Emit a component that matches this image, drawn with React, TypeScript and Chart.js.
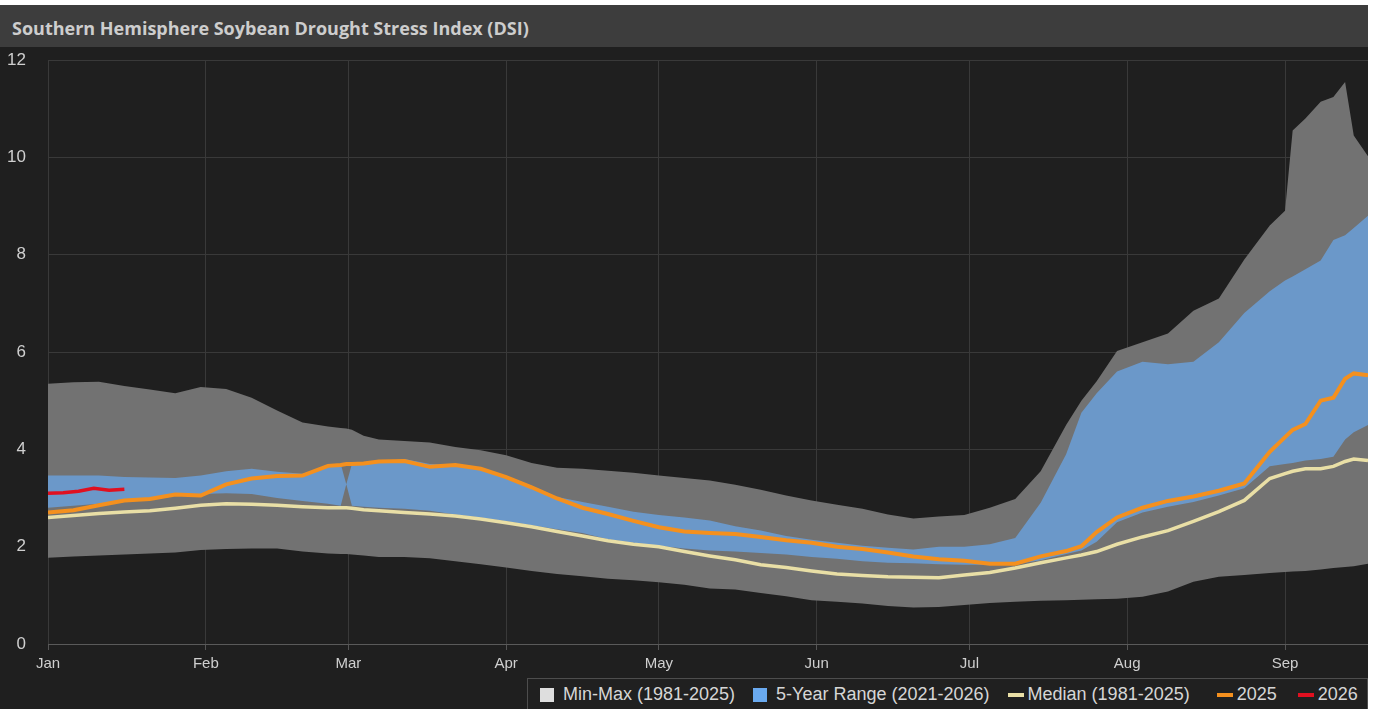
import React, { useEffect, useRef } from 'react';
import { Chart, registerables } from 'chart.js';

Chart.register(...registerables);

// Day-of-year offsets (0 = Jan 1) for the sampled points
const days = [0, 5, 10, 15, 20, 25, 30, 35, 40, 45, 50, 55, 57.5, 58.6, 59.7, 62, 65, 70, 75, 80, 85, 90, 95, 100, 105, 110, 115, 120, 125, 130, 135, 140, 145, 150, 155, 160, 165, 170, 175, 180, 185, 190, 195, 200, 203, 206, 210, 215, 220, 225, 230, 235, 240, 243, 244.5, 247, 250, 252.5, 254.8, 256.5, 259.3];

const minMaxUpper = [5.35, 5.38, 5.39, 5.30, 5.23, 5.15, 5.28, 5.24, 5.06, 4.80, 4.55, 4.47, 4.44, 4.43, 4.40, 4.28, 4.20, 4.17, 4.14, 4.05, 3.98, 3.88, 3.72, 3.62, 3.60, 3.56, 3.52, 3.46, 3.41, 3.36, 3.27, 3.17, 3.05, 2.95, 2.86, 2.78, 2.66, 2.58, 2.62, 2.65, 2.80, 2.98, 3.55, 4.50, 5.00, 5.40, 6.02, 6.20, 6.38, 6.85, 7.10, 7.90, 8.60, 8.90, 10.55, 10.80, 11.14, 11.24, 11.55, 10.45, 10.02];
const minMaxLower = [1.77, 1.80, 1.82, 1.84, 1.86, 1.88, 1.93, 1.95, 1.96, 1.96, 1.90, 1.86, 1.85, 1.85, 1.84, 1.82, 1.79, 1.79, 1.76, 1.70, 1.64, 1.57, 1.50, 1.44, 1.39, 1.34, 1.31, 1.27, 1.22, 1.14, 1.12, 1.05, 0.98, 0.90, 0.87, 0.83, 0.78, 0.75, 0.76, 0.80, 0.84, 0.87, 0.89, 0.90, 0.91, 0.92, 0.93, 0.97, 1.08, 1.28, 1.38, 1.42, 1.46, 1.48, 1.49, 1.50, 1.53, 1.56, 1.58, 1.60, 1.65];
const fiveYearUpper = [3.46, 3.46, 3.46, 3.43, 3.42, 3.41, 3.46, 3.55, 3.60, 3.54, 3.50, 3.66, 3.70, 3.28, 3.70, 3.72, 3.74, 3.80, 3.70, 3.68, 3.62, 3.45, 3.25, 3.02, 2.92, 2.82, 2.72, 2.65, 2.60, 2.54, 2.42, 2.33, 2.22, 2.14, 2.08, 2.02, 1.98, 1.94, 2.00, 2.00, 2.05, 2.18, 2.90, 3.90, 4.75, 5.15, 5.60, 5.80, 5.75, 5.80, 6.20, 6.80, 7.25, 7.47, 7.55, 7.70, 7.88, 8.30, 8.40, 8.55, 8.80];
const fiveYearLower = [2.80, 2.84, 2.88, 2.93, 3.00, 3.07, 3.08, 3.10, 3.08, 3.00, 2.94, 2.88, 2.84, 3.28, 2.84, 2.82, 2.80, 2.78, 2.74, 2.66, 2.60, 2.52, 2.44, 2.36, 2.28, 2.15, 2.08, 2.02, 1.96, 1.92, 1.90, 1.87, 1.84, 1.79, 1.75, 1.70, 1.67, 1.66, 1.64, 1.63, 1.63, 1.64, 1.72, 1.85, 1.92, 2.10, 2.50, 2.70, 2.82, 2.92, 3.05, 3.20, 3.65, 3.70, 3.72, 3.77, 3.80, 3.85, 4.20, 4.35, 4.50];
const median = [2.60, 2.64, 2.68, 2.71, 2.74, 2.79, 2.85, 2.88, 2.87, 2.85, 2.82, 2.80, 2.80, 2.80, 2.79, 2.76, 2.74, 2.70, 2.67, 2.63, 2.57, 2.49, 2.41, 2.31, 2.22, 2.12, 2.05, 2.00, 1.90, 1.81, 1.73, 1.63, 1.57, 1.50, 1.44, 1.41, 1.38, 1.37, 1.36, 1.42, 1.47, 1.56, 1.67, 1.77, 1.83, 1.90, 2.05, 2.20, 2.33, 2.52, 2.72, 2.95, 3.40, 3.50, 3.55, 3.60, 3.60, 3.65, 3.75, 3.80, 3.77];
const y2025 = [2.70, 2.75, 2.85, 2.95, 2.98, 3.07, 3.05, 3.28, 3.40, 3.45, 3.46, 3.66, 3.68, 3.70, 3.70, 3.71, 3.75, 3.76, 3.64, 3.68, 3.60, 3.43, 3.22, 2.99, 2.80, 2.67, 2.53, 2.40, 2.31, 2.28, 2.26, 2.20, 2.13, 2.08, 2.00, 1.95, 1.88, 1.80, 1.74, 1.71, 1.65, 1.65, 1.80, 1.91, 2.01, 2.30, 2.60, 2.80, 2.94, 3.03, 3.15, 3.30, 3.95, 4.25, 4.40, 4.52, 5.00, 5.06, 5.45, 5.56, 5.52];

const days2026 = [0, 3, 6, 9, 12, 15];
const y2026 = [3.10, 3.11, 3.14, 3.20, 3.16, 3.18];

const monthDays = [0, 31, 59, 90, 120, 151, 181, 212, 243];
const monthLabels = ['Jan', 'Feb', 'Mar', 'Apr', 'May', 'Jun', 'Jul', 'Aug', 'Sep'];
const yTicks = [0, 2, 4, 6, 8, 10, 12];

const legendItems = [
  { label: 'Min-Max (1981-2025)', color: '#dedede', kind: 'box', gap: 0 },
  { label: '5-Year Range (2021-2026)', color: '#6aaaf0', kind: 'box', gap: 18 },
  { label: 'Median (1981-2025)', color: '#e9dfa6', kind: 'line', gap: 18 },
  { label: '2025', color: '#f4901e', kind: 'line', gap: 27 },
  { label: '2026', color: '#e01020', kind: 'line', gap: 21 },
];

const FONT = '"Liberation Sans", Arial, sans-serif';

export default function App() {
  const canvasRef = useRef<HTMLCanvasElement>(null);

  useEffect(() => {
    document.body.style.margin = '0';
    const pts = (xs: number[], vals: number[]) => vals.map((v, i) => ({ x: xs[i], y: v }));
    const base = { pointRadius: 0, pointHoverRadius: 0, tension: 0 };
    const chart = new Chart(canvasRef.current as HTMLCanvasElement, {
      type: 'line',
      data: {
        datasets: [
          { ...base, label: 'Min-Max (1981-2025)', data: pts(days, minMaxUpper), borderWidth: 0, borderColor: 'rgba(0,0,0,0)', backgroundColor: '#727272', fill: 1, order: 6 },
          { ...base, label: 'Min', data: pts(days, minMaxLower), borderWidth: 0, borderColor: 'rgba(0,0,0,0)', fill: false, order: 6 },
          { ...base, label: '5-Year Range (2021-2026)', data: pts(days, fiveYearUpper), borderWidth: 0, borderColor: 'rgba(0,0,0,0)', backgroundColor: '#6b98c9', fill: 3, order: 4 },
          { ...base, label: '5Y low', data: pts(days, fiveYearLower), borderWidth: 0, borderColor: 'rgba(0,0,0,0)', fill: false, order: 4 },
          { ...base, label: 'Median (1981-2025)', data: pts(days, median), borderColor: '#e9dfa6', borderWidth: 3.5, fill: false, order: 2 },
          { ...base, label: '2025', data: pts(days, y2025), borderColor: '#f4901e', borderWidth: 4, fill: false, order: 1 },
          { ...base, label: '2026', data: pts(days2026, y2026), borderColor: '#e01020', borderWidth: 3.5, fill: false, order: 0 },
        ],
      },
      options: {
        animation: false,
        responsive: false,
        devicePixelRatio: 1,
        events: [],
        layout: { padding: { top: 13, bottom: 31, left: 0, right: 0 } },
        plugins: { legend: { display: false }, tooltip: { enabled: false }, title: { display: false } },
        scales: {
          x: {
            type: 'linear',
            min: 0,
            max: 259.3,
            afterBuildTicks: (s: any) => { s.ticks = monthDays.map((v) => ({ value: v })); },
            grid: { color: '#393939', lineWidth: 1, tickLength: 6, drawTicks: true, tickColor: '#555555' },
            border: { color: '#5a5a5a' },
            ticks: {
              autoSkip: false,
              maxRotation: 0,
              padding: 5,
              color: '#cfcfcf',
              font: { family: FONT, size: 15 },
              callback: (v: any) => monthLabels[monthDays.indexOf(Number(v))] ?? '',
            },
          },
          y: {
            min: 0,
            max: 12,
            afterBuildTicks: (s: any) => { s.ticks = yTicks.map((v) => ({ value: v })); },
            afterFit: (s: any) => { s.width = 48; s.paddingTop = 0; s.paddingBottom = 0; },
            grid: { color: (c: any) => (c.tick && c.tick.value === 0 ? '#5a5a5a' : '#393939'), drawTicks: false },
            border: { display: false },
            ticks: { padding: 22, color: '#cfcfcf', font: { family: FONT, size: 17 } },
          },
        },
      } as any,
    });
    return () => chart.destroy();
  }, []);

  return (
    <div style={{ position: 'relative', width: 1373, height: 709, background: '#ffffff', overflow: 'hidden' }}>
      <div style={{ position: 'absolute', left: 0, top: 5, width: 1368, height: 704, background: '#1f1f1f' }}>
        <div style={{ height: 42, background: '#3d3d3d', display: 'flex', alignItems: 'center', paddingLeft: 12, paddingTop: 3, boxSizing: 'border-box', color: '#cdcdcd', fontFamily: '"Open Sans", sans-serif', fontWeight: 700, fontSize: 18 }}>
          Southern Hemisphere Soybean Drought Stress Index (DSI)
        </div>
        <canvas ref={canvasRef} width={1368} height={662} style={{ display: 'block', width: 1368, height: 662 }} />
      </div>
      <div style={{ position: 'absolute', left: 527, top: 678, width: 841, height: 40, boxSizing: 'border-box', border: '1px solid #4d4d4d', background: '#202020', display: 'flex', alignItems: 'flex-start', paddingLeft: 12, paddingTop: 5, fontFamily: FONT, fontSize: 18, color: '#d6d6d6', lineHeight: '21px' }}>
        {legendItems.map((it) => (
          <div key={it.label} style={{ display: 'flex', alignItems: 'center', marginLeft: it.gap, whiteSpace: 'nowrap' }}>
            {it.kind === 'box' ? (
              <span style={{ display: 'inline-block', width: 14, height: 14, background: it.color, marginRight: 9 }} />
            ) : (
              <span style={{ display: 'inline-block', width: 16, height: 4, background: it.color, marginRight: 4 }} />
            )}
            <span>{it.label}</span>
          </div>
        ))}
      </div>
    </div>
  );
}
